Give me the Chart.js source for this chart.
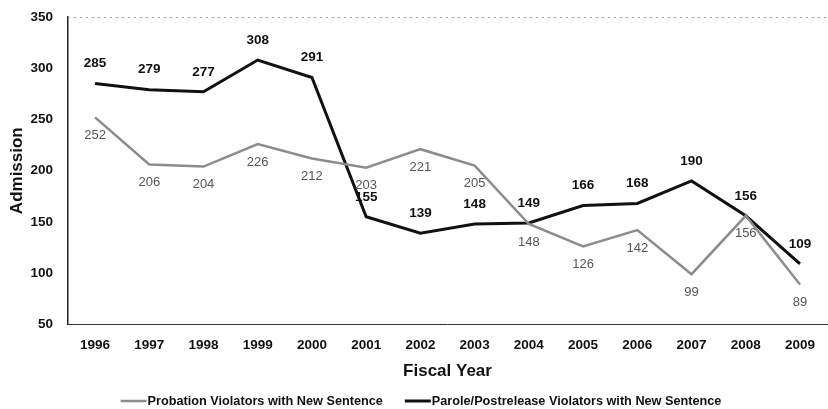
<!DOCTYPE html>
<html>
<head>
<meta charset="utf-8">
<script src="https://cdn.jsdelivr.net/npm/chart.js@4"></script>
<style>
  html, body { margin: 0; padding: 0; background: #fff; }
  #wrap { width: 828px; height: 409px; }
</style>
</head>
<body>
<div id="wrap"><canvas id="admissions"></canvas></div>
<script>
/* --------------- Data --------------------- */
const years = ["1996", "1997", "1998", "1999", "2000", "2001", "2002", "2003", "2004", "2005", "2006", "2007", "2008", "2009"];
const probation = [252, 206, 204, 226, 212, 203, 221, 205, 148, 126, 142, 99, 156, 89];
const parole = [285, 279, 277, 308, 291, 155, 139, 148, 149, 166, 168, 190, 156, 109];
const yTicks = [50, 100, 150, 200, 250, 300, 350];

const FONT = "'Liberation Sans', Arial, sans-serif";

/* --------------- Value labels (no datalabels plugin offline) --------------------- */
const valueLabels = {
  id: "valueLabels",
  afterDatasetsDraw(chart) {
    const ctx = chart.ctx;
    ctx.save();
    ctx.textAlign = "center";
    ctx.textBaseline = "middle";
    chart.data.datasets.forEach((ds, i) => {
      const meta = chart.getDatasetMeta(i);
      meta.data.forEach((pt, j) => {
        if (ds.labelAbove) {
          ctx.font = "bold 13.5px " + FONT;
          ctx.fillStyle = "#111";
          ctx.fillText(ds.data[j], pt.x, pt.y - 20);
        } else {
          ctx.font = "13px " + FONT;
          ctx.fillStyle = "#555";
          ctx.fillText(ds.data[j], pt.x, pt.y + 18);
        }
      });
    });
    ctx.restore();
  },
};

/* --------------- Faint dotted top border --------------------- */
const topBorder = {
  id: "topBorder",
  beforeDatasetsDraw(chart) {
    const { ctx, chartArea } = chart;
    ctx.save();
    ctx.strokeStyle = "#a0a0a0";
    ctx.lineWidth = 1;
    ctx.setLineDash([2, 4]);
    ctx.beginPath();
    ctx.moveTo(chartArea.left, chartArea.top + 0.5);
    ctx.lineTo(chartArea.right, chartArea.top + 0.5);
    ctx.stroke();
    ctx.restore();
  },
};

/* --------------- Bottom legend, swatch touching the text --------------------- */
const bottomLegend = {
  id: "bottomLegend",
  afterDraw(chart) {
    const ctx = chart.ctx;
    const y = chart.height - 8;
    const swatch = 27;
    const gap = 22;
    ctx.save();
    ctx.font = "bold 12.7px " + FONT;
    ctx.textBaseline = "middle";
    const items = chart.data.datasets.map((ds) => ({
      ds,
      w: swatch + ctx.measureText(ds.label).width,
    }));
    const total = items.reduce((s, it) => s + it.w, 0) + gap * (items.length - 1);
    let x = (chart.width - total) / 2 + 7;
    items.forEach((it) => {
      ctx.strokeStyle = it.ds.borderColor;
      ctx.lineWidth = it.ds.borderWidth;
      ctx.beginPath();
      ctx.moveTo(x, y);
      ctx.lineTo(x + swatch - 1, y);
      ctx.stroke();
      ctx.fillStyle = "#111";
      ctx.fillText(it.ds.label, x + swatch, y);
      x += it.w + gap;
    });
    ctx.restore();
  },
};

new Chart(document.getElementById("admissions"), {
  type: "line",
  plugins: [valueLabels, topBorder, bottomLegend],
  data: {
    labels: years,
    datasets: [
      {
        label: "Probation Violators with New Sentence",
        data: probation,
        borderColor: "#8c8c8c",
        backgroundColor: "#8c8c8c",
        borderWidth: 2.5,
        pointRadius: 0,
        tension: 0,
        labelAbove: false,
      },
      {
        label: "Parole/Postrelease Violators with New Sentence",
        data: parole,
        borderColor: "#111",
        backgroundColor: "#111",
        borderWidth: 3,
        pointRadius: 0,
        tension: 0,
        labelAbove: true,
      },
    ],
  },
  options: {
    responsive: true,
    maintainAspectRatio: false,
    animation: false,
    layout: { padding: { top: 17, right: 0, left: 7, bottom: 27 } },
    plugins: {
      tooltip: { enabled: false },
      legend: { display: false },
    },
    scales: {
      x: {
        offset: true,
        grid: { display: false, drawTicks: false },
        border: { display: true, color: "#333", width: 1, dash: [2, 1] },
        ticks: {
          padding: 13,
          color: "#111",
          font: { family: FONT, size: 13.5, weight: "bold" },
        },
        title: {
          display: true,
          text: "Fiscal Year",
          color: "#111",
          padding: { top: -5, bottom: 0 },
          font: { family: FONT, size: 17, weight: "bold" },
        },
      },
      y: {
        min: 50,
        max: 350,
        afterBuildTicks: (axis) => {
          axis.ticks = yTicks.map((v) => ({ value: v }));
        },
        afterFit: (axis) => {
          axis.paddingTop = 0; // let the top tick sit at the layout padding
        },
        grid: { display: false, drawTicks: false },
        border: { display: true, color: "#222", width: 1.5 },
        ticks: {
          padding: 15,
          color: "#111",
          font: { family: FONT, size: 13.5, weight: "bold" },
        },
        title: {
          display: true,
          text: "Admission",
          color: "#111",
          padding: { top: 0, bottom: -12 },
          font: { family: FONT, size: 17, weight: "bold" },
        },
      },
    },
  },
});
</script>
</body>
</html>
